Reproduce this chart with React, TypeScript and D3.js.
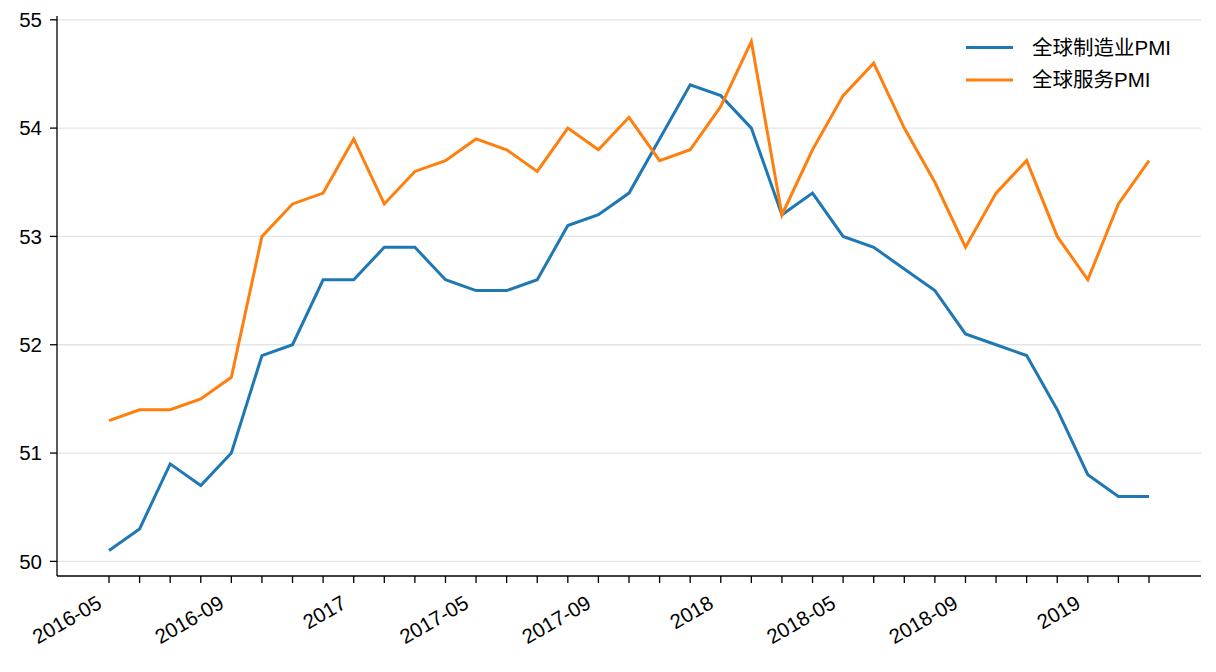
import React from "react";
import * as d3 from "d3";

const months = [
  "2016-05","2016-06","2016-07","2016-08","2016-09","2016-10","2016-11","2016-12",
  "2017-01","2017-02","2017-03","2017-04","2017-05","2017-06","2017-07","2017-08",
  "2017-09","2017-10","2017-11","2017-12","2018-01","2018-02","2018-03","2018-04",
  "2018-05","2018-06","2018-07","2018-08","2018-09","2018-10","2018-11","2018-12",
  "2019-01","2019-02","2019-03",
];
const tickLabels: Record<string, string> = {
  "2016-05": "2016-05", "2016-09": "2016-09", "2017-01": "2017", "2017-05": "2017-05",
  "2017-09": "2017-09", "2018-01": "2018", "2018-05": "2018-05", "2018-09": "2018-09",
  "2019-01": "2019",
};
const manufacturing = [
  50.1, 50.3, 50.9, 50.7, 51.0, 51.9, 52.0, 52.6,
  52.6, 52.9, 52.9, 52.6, 52.5, 52.5, 52.6, 53.1,
  53.2, 53.4, 53.9, 54.4, 54.3, 54.0, 53.2, 53.4,
  53.0, 52.9, 52.7, 52.5, 52.1, 52.0, 51.9, 51.4,
  50.8, 50.6, 50.6,
];
const services = [
  51.3, 51.4, 51.4, 51.5, 51.7, 53.0, 53.3, 53.4,
  53.9, 53.3, 53.6, 53.7, 53.9, 53.8, 53.6, 54.0,
  53.8, 54.1, 53.7, 53.8, 54.2, 54.8, 53.2, 53.8,
  54.3, 54.6, 54.0, 53.5, 52.9, 53.4, 53.7, 53.0,
  52.6, 53.3, 53.7,
];
const yTicks = [50, 51, 52, 53, 54, 55];
const seriesNames = ["全球制造业PMI", "全球服务PMI"];
const colors = ["#1f77b4", "#ff7f0e"];

export default function App() {
  const W = 1216, H = 672;
  const left = 57, right = 1201, top = 16, bottom = 576;
  const x = d3.scaleLinear().domain([-1.7, months.length - 1 + 1.7]).range([left, right]);
  const y = d3.scaleLinear().domain([49.865, 55.035]).range([bottom, top]);
  const line = d3.line<number>().x((_, i) => x(i)).y((d) => y(d));
  const font = "'Liberation Sans', Arial, 'Noto Sans CJK SC', sans-serif";
  const fs = 20.5;
  const series = [manufacturing, services];
  return (
    <svg width={W} height={H} style={{ position: "absolute", left: 0, top: 0 }} fontFamily={font}>
      <rect width={W} height={H} fill="#fff" />
      {yTicks.map((t) => (
        <g key={t}>
          <line x1={left} x2={right} y1={y(t)} y2={y(t)} stroke="#e5e5e5" strokeWidth={1.3} />
          <line x1={left - 7} x2={left} y1={y(t)} y2={y(t)} stroke="#000" strokeWidth={1.3} />
          <text x={left - 15} y={y(t)} dy="0.36em" textAnchor="end" fontSize={fs} fill="#000">{t}</text>
        </g>
      ))}
      {series.map((s, k) => (
        <path key={k} d={line(s) || ""} fill="none" stroke={colors[k]} strokeWidth={3} strokeLinejoin="miter" />
      ))}
      <line x1={left} x2={left} y1={top} y2={bottom} stroke="#000" strokeWidth={1.3} />
      <line x1={left} x2={right} y1={bottom} y2={bottom} stroke="#000" strokeWidth={1.3} />
      {months.map((m, i) => (
        <g key={m}>
          <line x1={x(i)} x2={x(i)} y1={bottom} y2={bottom + 7} stroke="#000" strokeWidth={1.3} />
          {tickLabels[m] && (
            <text transform={`translate(${x(i) - 6},${bottom + 31}) rotate(-30)`} textAnchor="end" fontSize={fs} fill="#000">
              {tickLabels[m]}
            </text>
          )}
        </g>
      ))}
      {seriesNames.map((n, k) => (
        <g key={n} transform={`translate(966,${47.5 + k * 32.5})`}>
          <line x1={0} x2={47} y1={0} y2={0} stroke={colors[k]} strokeWidth={3} />
          <text x={66} y={0} dy="0.36em" fontSize={fs} fill="#000">{n}</text>
        </g>
      ))}
    </svg>
  );
}
